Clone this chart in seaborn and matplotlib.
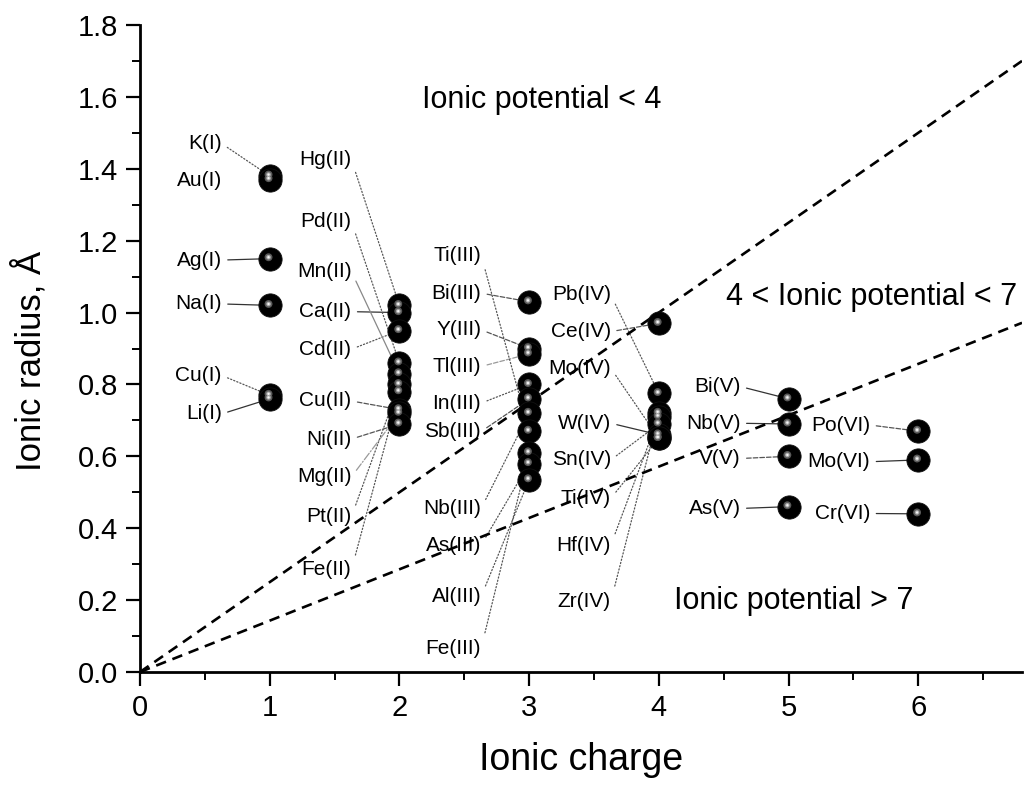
import numpy as np
import pandas as pd
import matplotlib
matplotlib.use('Agg')
import matplotlib.pyplot as plt
from matplotlib.path import Path
from matplotlib.markers import MarkerStyle
from matplotlib.ticker import MultipleLocator
import seaborn as sns

# --- data ---------------------------------------------------------------
ions = ['K(I)', 'Au(I)', 'Ag(I)', 'Na(I)', 'Cu(I)', 'Li(I)',
        'Hg(II)', 'Ca(II)', 'Cd(II)', 'Pd(II)', 'Mn(II)', 'Pt(II)', 'Fe(II)',
        'Cu(II)', 'Mg(II)', 'Ni(II)',
        'Bi(III)', 'Y(III)', 'Tl(III)', 'In(III)', 'Sb(III)', 'Nb(III)',
        'Ti(III)', 'Fe(III)', 'As(III)', 'Al(III)',
        'Ce(IV)', 'Pb(IV)', 'Zr(IV)', 'Hf(IV)', 'Sn(IV)', 'W(IV)', 'Mo(IV)', 'Ti(IV)',
        'Bi(V)', 'Nb(V)', 'V(V)', 'As(V)',
        'Po(VI)', 'Mo(VI)', 'Cr(VI)']
charges = [1, 1, 1, 1, 1, 1,
           2, 2, 2, 2, 2, 2, 2, 2, 2, 2,
           3, 3, 3, 3, 3, 3, 3, 3, 3, 3,
           4, 4, 4, 4, 4, 4, 4, 4,
           5, 5, 5, 5,
           6, 6, 6]
radii = [1.38, 1.37, 1.15, 1.02, 0.77, 0.76,
         1.02, 1.00, 0.95, 0.86, 0.83, 0.80, 0.78, 0.73, 0.72, 0.69,
         1.03, 0.90, 0.885, 0.80, 0.76, 0.72, 0.67, 0.61, 0.58, 0.535,
         0.97, 0.775, 0.72, 0.71, 0.69, 0.66, 0.65, 0.65,
         0.76, 0.69, 0.60, 0.46,
         0.67, 0.59, 0.44]

# ionic potential = charge / radius boundaries
potential_limits = [4, 7]
region_labels = ['Ionic potential < 4', '4 < Ionic potential < 7', 'Ionic potential > 7']

x_ticks = [0, 1, 2, 3, 4, 5, 6]
y_ticks = [0.0, 0.2, 0.4, 0.6, 0.8, 1.0, 1.2, 1.4, 1.6, 1.8]

# --- label layout (text height in data units, leader line style) ---------
label_y = {
    'K(I)': 1.47, 'Au(I)': 1.366, 'Ag(I)': 1.146, 'Na(I)': 1.024, 'Cu(I)': 0.825, 'Li(I)': 0.718,
    'Hg(II)': 1.425, 'Pd(II)': 1.253, 'Mn(II)': 1.114, 'Ca(II)': 1.0025, 'Cd(II)': 0.898,
    'Cu(II)': 0.754, 'Ni(II)': 0.648, 'Mg(II)': 0.543, 'Pt(II)': 0.432, 'Fe(II)': 0.284,
    'Ti(III)': 1.16, 'Bi(III)': 1.054, 'Y(III)': 0.952, 'Tl(III)': 0.85, 'In(III)': 0.748,
    'Sb(III)': 0.669, 'Nb(III)': 0.455, 'As(III)': 0.353, 'Al(III)': 0.21, 'Fe(III)': 0.066,
    'Pb(IV)': 1.049, 'Ce(IV)': 0.947, 'Mo(IV)': 0.845, 'W(IV)': 0.692, 'Sn(IV)': 0.59,
    'Ti(IV)': 0.483, 'Hf(IV)': 0.353, 'Zr(IV)': 0.196,
    'Bi(V)': 0.794, 'Nb(V)': 0.692, 'V(V)': 0.594, 'As(V)': 0.455,
    'Po(VI)': 0.687, 'Mo(VI)': 0.585, 'Cr(VI)': 0.441,
}
solid = ('-', '#333333')
dash = ('--', '#555555')
dot = (':', '#555555')
leader = {
    'K(I)': dot, 'Au(I)': None, 'Ag(I)': solid, 'Na(I)': solid, 'Cu(I)': dot, 'Li(I)': solid,
    'Hg(II)': dot, 'Pd(II)': dot, 'Mn(II)': ('-', '#888888'), 'Ca(II)': solid, 'Cd(II)': dot,
    'Cu(II)': dash, 'Ni(II)': dash, 'Mg(II)': ('-.', '#999999'), 'Pt(II)': dot, 'Fe(II)': dot,
    'Ti(III)': dot, 'Bi(III)': dash, 'Y(III)': dash, 'Tl(III)': ('--', '#999999'), 'In(III)': dot,
    'Sb(III)': dash, 'Nb(III)': dot, 'As(III)': dot, 'Al(III)': dot, 'Fe(III)': dot,
    'Pb(IV)': dot, 'Ce(IV)': dash, 'Mo(IV)': dot, 'W(IV)': solid, 'Sn(IV)': dot,
    'Ti(IV)': dot, 'Hf(IV)': dot, 'Zr(IV)': dot,
    'Bi(V)': solid, 'Nb(V)': solid, 'V(V)': dash, 'As(V)': solid,
    'Po(VI)': dash, 'Mo(VI)': solid, 'Cr(VI)': solid,
}
label_gap = 0.37  # labels sit left of their charge column

df = pd.DataFrame({'ion': ions, 'charge': charges, 'radius': radii})

sns.set_theme(style='ticks')
plt.rcParams['font.family'] = ['Liberation Sans', 'DejaVu Sans']
plt.rcParams['text.color'] = 'black'

fig = plt.figure(figsize=(10.35, 7.87), dpi=100)
ax = fig.add_axes([140 / 1035, 115 / 787, 882 / 1035, 647 / 787])

# boundary lines r = z / potential
xs = np.linspace(0, 6.8, 60)
for lim in potential_limits:
    sns.lineplot(x=xs, y=xs / lim, ax=ax, color='black', linewidth=1.9,
                 linestyle=(0, (4, 2.6)), zorder=3)

# labels with leader lines
for ion, z, r in zip(ions, charges, radii):
    style = leader[ion]
    props = None
    if style is not None:
        props = dict(arrowstyle='-', linestyle=style[0], color=style[1], lw=0.9,
                     relpos=(1, 0.5), shrinkA=2, shrinkB=0)
    ax.annotate(ion, xy=(z, r), xytext=(z - label_gap, label_y[ion]),
                ha='right', va='center', fontsize=15, zorder=2, arrowprops=props)

# the spheres: black ball + grey halo + white glint
size = 280


def spot_marker(cx, cy, rad):
    p = Path.circle(center=(cx, cy), radius=rad)
    k = np.abs(p.vertices).max() / 0.5
    return MarkerStyle(p), k ** 2


sns.scatterplot(data=df, x='charge', y='radius', s=size, color='black',
                edgecolor='#111111', linewidth=0.6, zorder=4, ax=ax, legend=False)
for (cx, cy, rad, col) in [(-0.05, 0.06, 0.17, '#5a5a5a'), (-0.05, 0.06, 0.1, '#a8a8a8'),
                           (-0.05, 0.06, 0.05, '#f4f4f4')]:
    m, k2 = spot_marker(cx, cy, rad)
    sns.scatterplot(data=df, x='charge', y='radius', s=size * k2, color=col,
                    marker=m, edgecolor='none', linewidth=0,
                    zorder=5, ax=ax, legend=False)

# region annotations
ax.text(3.10, 1.59, region_labels[0], fontsize=22, ha='center', va='center')
ax.text(5.64, 1.043, region_labels[1], fontsize=22, ha='center', va='center')
ax.text(5.04, 0.198, region_labels[2], fontsize=22, ha='center', va='center')

ax.set_xlim(0, 6.8)
ax.set_ylim(0, 1.8)
ax.set_xticks(x_ticks)
ax.set_yticks(y_ticks)
ax.set_yticklabels([f'{v:.1f}' for v in y_ticks])
ax.xaxis.set_minor_locator(MultipleLocator(0.5))
ax.yaxis.set_minor_locator(MultipleLocator(0.1))
ax.tick_params(which='major', direction='out', length=10, width=1.6, labelsize=21,
               color='black', labelcolor='black', pad=6)
ax.tick_params(which='minor', direction='out', length=5.5, width=1.4, color='black')

ax.set_xlabel('Ionic charge', fontsize=27, color='black', labelpad=14)
ax.set_ylabel('Ionic radius, Å', fontsize=25, color='black')
ax.yaxis.set_label_coords(-0.105, 0.481)

sns.despine(ax=ax)
for side in ['left', 'bottom']:
    ax.spines[side].set_linewidth(2)
    ax.spines[side].set_color('black')
ax.set_facecolor('white')

fig.savefig('out.png', dpi=100, facecolor='white')
